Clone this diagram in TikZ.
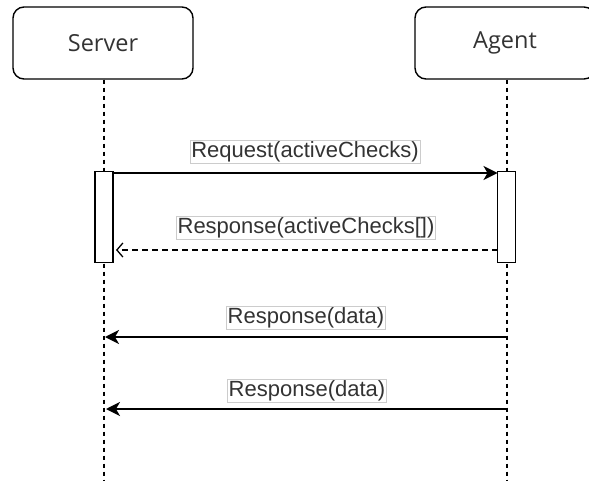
\documentclass[tikz,border=0pt]{standalone}
\usepackage{fontspec}
\setmainfont{Liberation Sans}
\newfontfamily\titlefont{Open Sans}
\usetikzlibrary{arrows.meta}
\definecolor{txt}{HTML}{333333}
\tikzset{
  x=1pt, y=-1pt,
  actor/.style={draw, line width=1.4pt, rounded corners=11pt, minimum width=180pt,
    minimum height=72pt, inner sep=0pt, font=\titlefont\fontsize{23.5}{26}\selectfont, text=txt},
  lifeline/.style={line width=1.3pt, dash pattern=on 4pt off 4pt},
  activation/.style={draw, fill=white, line width=1.5pt, minimum width=18pt,
    minimum height=91pt, inner sep=0pt},
  msg/.style={line width=1.5pt, -{Stealth[length=14pt,width=14pt,inset=4pt]}},
  reply/.style={line width=1.3pt, dash pattern=on 6pt off 4pt, -{Straight Barb[length=6pt,width=14pt]}},
  msglabel/.style={draw=black!20, fill=white, line width=0.8pt, inner sep=1.2pt,
    font=\fontsize{22}{25}\selectfont, text=txt}
}
\begin{document}
\begin{tikzpicture}
\useasboundingbox (0,0) rectangle (589,481);
\clip (0,0) rectangle (589,481);

% participants
\node[actor] (server) at (103,43) {Server};
\node[actor] (agent) at (505,43) {Agent};

% lifeline ends
\coordinate (sEnd) at (104,481);
\coordinate (aEnd) at (507,481);
\draw[lifeline] (server.south -| sEnd) -- (sEnd);
\draw[lifeline] (agent.south -| aEnd) -- (aEnd);

% activation bars
\node[activation] (sAct) at (104,217) {};
\node[activation] (aAct) at (506.5,217) {};

% request / response pair
\coordinate (reqFrom) at (113,173);
\coordinate (reqTo) at (497.5,173);
\draw[msg] (reqFrom) -- (reqTo);
\node[msglabel] (reqLbl) at (305,152) {Request(activeChecks)};

\coordinate (repFrom) at (497.5,250);
\coordinate (repTo) at (116,250);
\draw[reply] (repFrom) -- (repTo);
\node[msglabel] (repLbl) at (306,228) {Response(activeChecks[])};

% data pushes
\coordinate (d1From) at (507,337);
\coordinate (d1To) at (105,337);
\draw[msg] (d1From) -- (d1To);
\node[msglabel] (d1Lbl) at (306,318) {Response(data)};

\coordinate (d2From) at (507,409);
\coordinate (d2To) at (106,409);
\draw[msg] (d2From) -- (d2To);
\node[msglabel] (d2Lbl) at (307,391) {Response(data)};
\end{tikzpicture}
\end{document}
